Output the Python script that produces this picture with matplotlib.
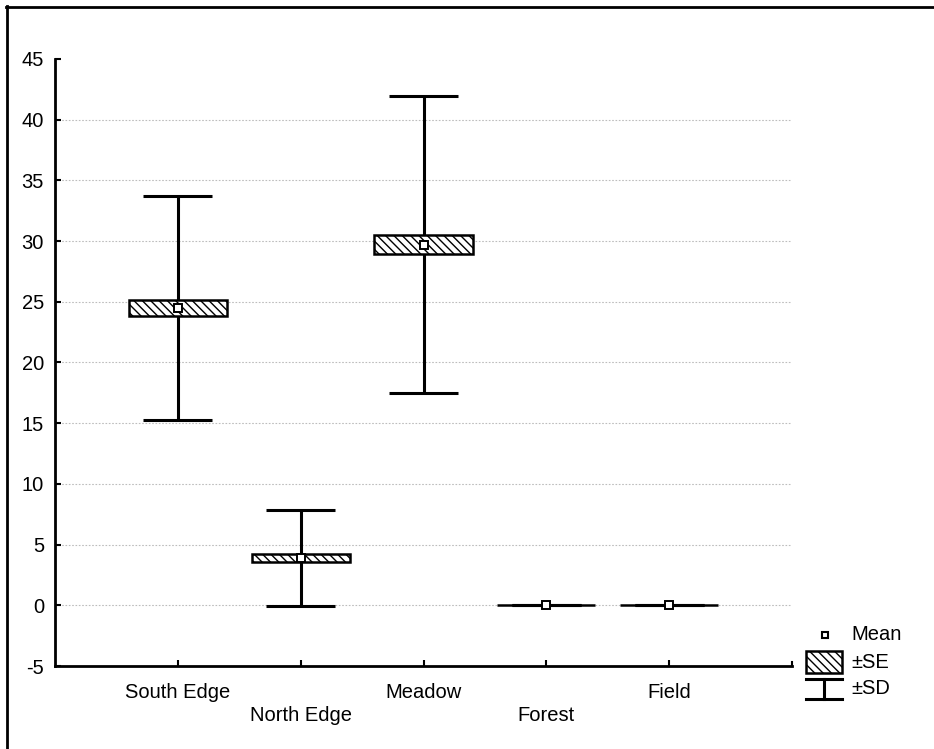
import matplotlib
matplotlib.use("Agg")
import matplotlib.pyplot as plt
from matplotlib.patches import Rectangle
from matplotlib.lines import Line2D
import numpy as np

plt.rcParams['font.family'] = ['Liberation Sans', 'DejaVu Sans']
plt.rcParams['hatch.linewidth'] = 1.0

categories = ['South Edge', 'North Edge', 'Meadow', 'Forest', 'Field']
means = [24.5, 3.9, 29.7, 0.0, 0.0]
se = [0.65, 0.3, 0.8, 0.0, 0.0]
sd = [9.2, 3.93, 12.25, 0.0, 0.0]
yticks = [-5, 0, 5, 10, 15, 20, 25, 30, 35, 40, 45]
legend_labels = ['Mean', '±SE', '±SD']

FS = 14.5
W, H = 934, 749
fig = plt.figure(figsize=(W / 100, H / 100), dpi=100)
fig.patch.set_facecolor('white')

# axes placement in pixels
ax_l, ax_r, ax_t, ax_b = 55, 792, 59, 666
ax = fig.add_axes([ax_l / W, (H - ax_b) / H, (ax_r - ax_l) / W, (ax_b - ax_t) / H])

x = np.arange(1, len(categories) + 1)
m = np.array(means)
s = np.array(se)
d = np.array(sd)

# whisker stems and caps
ax.vlines(x, m - d, m + d, colors='black', linewidth=2.2, zorder=2)
ax.hlines(m + d, x - 0.28, x + 0.28, colors='black', linewidth=2.2, zorder=2)
ax.hlines(m - d, x - 0.28, x + 0.28, colors='black', linewidth=2.2, zorder=2)
# SE boxes
ax.bar(x, 2 * s, bottom=m - s, width=0.8, facecolor='white', edgecolor='black',
       hatch='\\\\\\\\', linewidth=1.8, zorder=3)
# means
ax.plot(x, m, linestyle='none', marker='s', markersize=6, markerfacecolor='white',
        markeredgecolor='black', markeredgewidth=1.4, zorder=4)

ax.set_xlim(0, 6)
ax.set_ylim(-5, 45)
ax.set_yticks(yticks)
ax.set_yticklabels([str(v) for v in yticks])
ax.set_xticks(x)
ax.set_xticklabels(categories)
for i, t in enumerate(ax.xaxis.get_major_ticks()):
    t.set_pad(12 if i % 2 == 0 else 29)

ax.tick_params(axis='both', direction='in', length=4, width=1.5, labelsize=FS,
               colors='black')
ax.tick_params(axis='y', pad=8)
for sp in ['top', 'right']:
    ax.spines[sp].set_visible(False)
for sp in ['left', 'bottom']:
    ax.spines[sp].set_linewidth(2)

# dotted grid lines at interior y ticks
for v in yticks[1:-1]:
    ax.axhline(v, linestyle=(0, (1.5, 1.5)), color='#bdbdbd', linewidth=0.8, zorder=0)
ax.set_facecolor('white')

# overlay in pixel coords for frame and legend
ov = fig.add_axes([0, 0, 1, 1], facecolor='none')
ov.set_xlim(0, W)
ov.set_ylim(H, 0)
ov.axis('off')
ov.add_line(Line2D([6.5, 6.5], [6, H], color='black', linewidth=2))
ov.add_line(Line2D([6, W], [6.5, 6.5], color='black', linewidth=2))
# small tick at right end of x axis
ov.add_line(Line2D([ax_r, ax_r], [ax_b, ax_b - 4], color='black', linewidth=1.5))

# legend
ov.plot([825], [635], linestyle='none', marker='s', markersize=5, markerfacecolor='white',
        markeredgecolor='black', markeredgewidth=1.5)
ov.add_patch(Rectangle((806, 651), 36, 22, facecolor='white', edgecolor='black',
                       hatch='\\\\\\\\', linewidth=1.8))
ov.add_line(Line2D([806, 842], [679, 679], color='black', linewidth=2.2))
ov.add_line(Line2D([806, 842], [699, 699], color='black', linewidth=2.2))
ov.add_line(Line2D([824, 824], [679, 699], color='black', linewidth=2.2))
for lab, yy in zip(legend_labels, [635, 663, 689]):
    ov.text(851, yy, lab, fontsize=FS, va='center', ha='left', color='black')

fig.savefig('out.png', dpi=100, facecolor='white')
